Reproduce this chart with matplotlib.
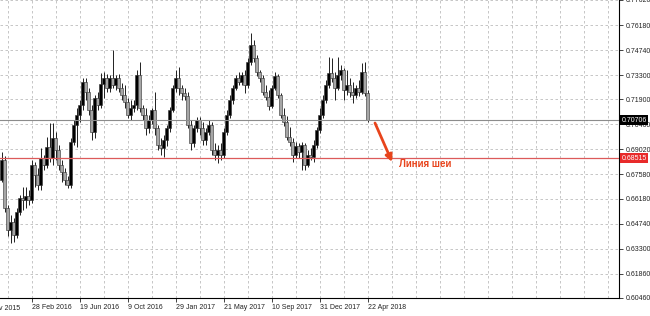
import matplotlib
matplotlib.use("Agg")
import matplotlib.pyplot as plt
import matplotlib.transforms as mtransforms
from matplotlib.ticker import FixedLocator, FuncFormatter
import pandas as pd

plt.rcParams["font.family"] = ["Liberation Sans", "DejaVu Sans"]

# weekly candles, first week starting 20 Dec 2015; open = previous close
first_week = "2015-12-20"
first_open = 0.6725
closes = [
    0.6840, 0.6564, 0.6437, 0.6483, 0.6408, 0.6541, 0.6622, 0.6610, 0.6633, 0.6610,
    0.6812, 0.6754, 0.6696, 0.6852, 0.6812, 0.6915, 0.6852, 0.6967, 0.6898, 0.6812,
    0.6771, 0.6725, 0.6696, 0.6944, 0.7042, 0.7100, 0.7157, 0.7290, 0.7232, 0.7128,
    0.7002, 0.7198, 0.7157, 0.7278, 0.7313, 0.7255, 0.7313, 0.7272, 0.7313, 0.7255,
    0.7215, 0.7175, 0.7100, 0.7140, 0.7157, 0.7330, 0.7140, 0.7100, 0.7025, 0.7071,
    0.7128, 0.7025, 0.6927, 0.6910, 0.6956, 0.7025, 0.7128, 0.7255, 0.7313, 0.7255,
    0.7226, 0.7209, 0.7042, 0.6938, 0.7025, 0.7071, 0.7025, 0.6956, 0.7002, 0.7042,
    0.6898, 0.6869, 0.6898, 0.6869, 0.7002, 0.7100, 0.7186, 0.7255, 0.7313, 0.7290,
    0.7330, 0.7272, 0.7405, 0.7503, 0.7428, 0.7347, 0.7313, 0.7232, 0.7203, 0.7151,
    0.7255, 0.7324, 0.7215, 0.7100, 0.7059, 0.6973, 0.6944, 0.6869, 0.6921, 0.6887,
    0.6927, 0.6812, 0.6869, 0.6858, 0.6927, 0.7013, 0.7100, 0.7186, 0.7272, 0.7342,
    0.7313, 0.7255, 0.7330, 0.7359, 0.7244, 0.7272, 0.7232, 0.7215, 0.7255, 0.7232,
    0.7347, 0.7226, 0.7071,
]
highs = [
    0.6887, 0.6863, 0.6581, 0.6524, 0.6506, 0.6564, 0.6639, 0.6685, 0.6685, 0.6668,
    0.6840, 0.6829, 0.6794, 0.6910, 0.6869, 0.6973, 0.7054, 0.7054, 0.7002, 0.6927,
    0.6840, 0.6794, 0.6748, 0.6967, 0.7071, 0.7140, 0.7186, 0.7313, 0.7313, 0.7255,
    0.7157, 0.7215, 0.7232, 0.7342, 0.7347, 0.7336, 0.7330, 0.7474, 0.7330, 0.7336,
    0.7284, 0.7272, 0.7198, 0.7186, 0.7186, 0.7359, 0.7405, 0.7157, 0.7140, 0.7100,
    0.7140, 0.7232, 0.7042, 0.6967, 0.6984, 0.7042, 0.7146, 0.7272, 0.7359, 0.7376,
    0.7272, 0.7255, 0.7232, 0.7071, 0.7042, 0.7088, 0.7088, 0.7059, 0.7025, 0.7071,
    0.7059, 0.6938, 0.6927, 0.6938, 0.7025, 0.7128, 0.7215, 0.7272, 0.7330, 0.7347,
    0.7347, 0.7359, 0.7428, 0.7572, 0.7532, 0.7445, 0.7359, 0.7330, 0.7272, 0.7244,
    0.7272, 0.7347, 0.7336, 0.7226, 0.7140, 0.7094, 0.7030, 0.6967, 0.6944, 0.6938,
    0.6944, 0.6938, 0.6898, 0.6910, 0.6956, 0.7030, 0.7140, 0.7215, 0.7301, 0.7434,
    0.7428, 0.7347, 0.7434, 0.7388, 0.7370, 0.7359, 0.7313, 0.7290, 0.7272, 0.7301,
    0.7399, 0.7405, 0.7244,
]
lows = [
    0.6714, 0.6541, 0.6403, 0.6362, 0.6368, 0.6391, 0.6524, 0.6552, 0.6564, 0.6581,
    0.6593, 0.6685, 0.6668, 0.6668, 0.6783, 0.6794, 0.6829, 0.6812, 0.6840, 0.6783,
    0.6714, 0.6696, 0.6679, 0.6679, 0.6927, 0.6915, 0.7059, 0.7128, 0.7186, 0.7100,
    0.6956, 0.6967, 0.7128, 0.7140, 0.7198, 0.7232, 0.7232, 0.7255, 0.7244, 0.7232,
    0.7186, 0.7140, 0.7082, 0.7071, 0.7117, 0.7128, 0.7117, 0.7071, 0.6984, 0.6996,
    0.7048, 0.6984, 0.6898, 0.6869, 0.6858, 0.6921, 0.7002, 0.7117, 0.7232, 0.7215,
    0.7186, 0.7186, 0.7025, 0.6898, 0.6915, 0.7002, 0.6984, 0.6927, 0.6927, 0.6984,
    0.6869, 0.6840, 0.6823, 0.6840, 0.6852, 0.6984, 0.7082, 0.7163, 0.7244, 0.7272,
    0.7272, 0.7226, 0.7255, 0.7388, 0.7405, 0.7324, 0.7290, 0.7215, 0.7186, 0.7128,
    0.7140, 0.7244, 0.7198, 0.7082, 0.7036, 0.6956, 0.6921, 0.6829, 0.6852, 0.6852,
    0.6783, 0.6783, 0.6800, 0.6840, 0.6829, 0.6910, 0.6996, 0.7082, 0.7169, 0.7255,
    0.7290, 0.7186, 0.7244, 0.7301, 0.7186, 0.7215, 0.7203, 0.7169, 0.7198, 0.7209,
    0.7221, 0.7209, 0.7059,
]
price_ticks = [0.7762, 0.7618, 0.7474, 0.7330, 0.7190, 0.7046, 0.6902,
               0.6758, 0.6618, 0.6474, 0.6330, 0.6186, 0.6046]
bid_price = 0.70706
neck_price = 0.68515
neck_label = "Линия шеи"

n = len(closes)
opens = [first_open] + closes[:-1]
weeks = pd.date_range(first_week, periods=n + 100, freq="7D")
idx = list(range(n))
highs = [max(h, o, c) for h, o, c in zip(highs, opens, closes)]
lows = [min(l, o, c) for l, o, c in zip(lows, opens, closes)]

fig = plt.figure(figsize=(6.5, 3.16), dpi=100)
ax = fig.add_axes([0, 18 / 316, 619 / 650, 298 / 316])

ax.vlines(idx, lows, highs, color="#202020", lw=0.7, zorder=2)
bottoms = [min(o, c) for o, c in zip(opens, closes)]
heights = [max(abs(c - o), 0.00015) for o, c in zip(opens, closes)]
fills = ["black" if c >= o else "#a6a6a6" for o, c in zip(opens, closes)]
ax.bar(idx, heights, bottom=bottoms, width=0.75, color=fills,
       edgecolor="#303030", linewidth=0.4, zorder=3)

ax.set_xlim(-0.5, (619 - 1.5) / 3)
ax.set_ylim(0.6046, 0.7762)

# price axis on the right
ax.yaxis.tick_right()
ax.yaxis.set_major_locator(FixedLocator(price_ticks))
ax.yaxis.set_major_formatter(FuncFormatter(lambda v, p: f"{v:.5f}"))
ax.tick_params(axis="y", length=3, width=0.6, pad=2, labelsize=5, colors="#222222")

# date axis: label every 16 weeks, grid every 8 weeks
label_pos = list(range(10, n, 16))
ax.xaxis.set_major_locator(FixedLocator(label_pos))
ax.xaxis.set_minor_locator(FixedLocator(list(range(2, 206, 8))))
ax.set_xticklabels([f"{weeks[i].day} {weeks[i]:%b %Y}" for i in label_pos])
ax.tick_params(axis="x", which="major", length=3, width=0.6, pad=1.5,
               labelsize=5, colors="#222222")
ax.tick_params(axis="x", which="minor", length=0)
for t in ax.get_xticklabels():
    t.set_ha("left")
prev = weeks[0] - pd.Timedelta(weeks=6)
ax.text(-6, -0.022, f"{prev.day} {prev:%b %Y}", transform=ax.get_xaxis_transform(),
        ha="left", va="top", fontsize=5, color="#222222", clip_on=False)

grid_kw = dict(color="#bdbdbd", lw=0.6, linestyle=(0, (3, 3)))
ax.grid(axis="y", which="major", **grid_kw)
ax.grid(axis="x", which="both", **grid_kw)
ax.set_axisbelow(True)

for s in ("left", "top"):
    ax.spines[s].set_visible(False)
for s in ("right", "bottom"):
    ax.spines[s].set_color("black")
    ax.spines[s].set_linewidth(0.8)

trans = mtransforms.blended_transform_factory(ax.transAxes, ax.transData)
ax.axhline(bid_price, color="#8c8c8c", lw=0.8, zorder=4)
ax.text(1.004, bid_price, f"{bid_price:.5f}", transform=trans, ha="left", va="center",
        fontsize=5, color="white", clip_on=False, zorder=6,
        bbox=dict(boxstyle="square,pad=0.2", fc="black", ec="none"))
ax.axhline(neck_price, color="#dc5a5a", lw=0.9, zorder=4)
ax.text(1.004, neck_price, f"{neck_price:.5f}", transform=trans, ha="left", va="center",
        fontsize=5, color="white", clip_on=False, zorder=6,
        bbox=dict(boxstyle="square,pad=0.2", fc="#e82a2a", ec="none"))

last = n - 1
ax.annotate("", xy=(last + 8.2, neck_price - 0.0022), xytext=(last + 2.5, bid_price - 0.0017),
            arrowprops=dict(arrowstyle="-|>", color="#e8441c", lw=2.0,
                            mutation_scale=10, shrinkA=0, shrinkB=0), zorder=5)
ax.text(last + 10.5, neck_price - 0.0034, neck_label, ha="left", va="center",
        fontsize=7, fontweight="bold", color="#e8441c", zorder=5)

fig.savefig("out.png", dpi=100, facecolor="white")
